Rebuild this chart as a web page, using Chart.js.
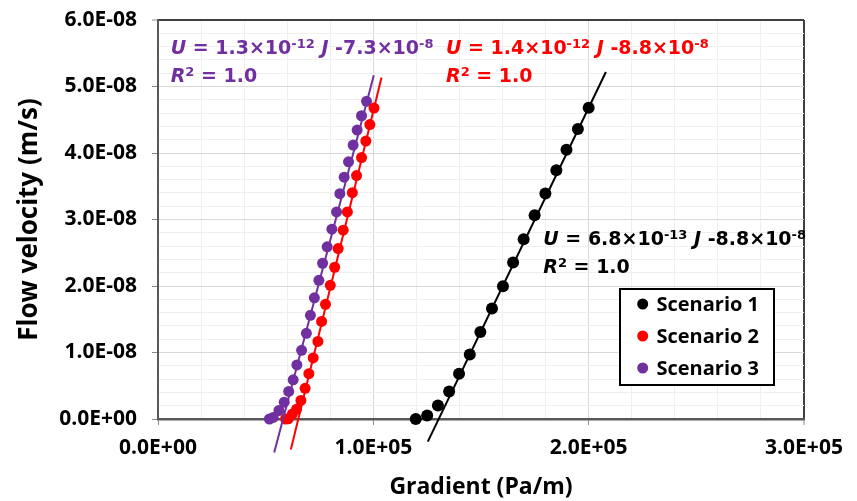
<!DOCTYPE html>
<html><head><meta charset="utf-8">
<style>html,body{margin:0;padding:0;background:#fff;overflow:hidden}</style>
<script src="https://cdn.jsdelivr.net/npm/chart.js@4.4.0/dist/chart.umd.min.js"></script>
</head><body>
<canvas id="c" width="857" height="501"></canvas>
<script>
// ---------------- data ----------------
const seriesNames = ['Scenario 1', 'Scenario 2', 'Scenario 3'];
const seriesColors = ['#000000', '#ff0000', '#7030a0'];

const s1Gradient = [119700,125000,130000,135200,139800,144800,149700,155100,160200,164900,169800,174900,179900,185000,189700,195000,200000];
const s1Velocity = [0,0.053e-8,0.203e-8,0.414e-8,0.68e-8,0.971e-8,1.307e-8,1.66e-8,1.995e-8,2.352e-8,2.703e-8,3.065e-8,3.39e-8,3.74e-8,4.05e-8,4.36e-8,4.68e-8];

const s2Gradient = [59260,60460,62410,64360,66360,68310,70070,72060,74250,75960,77770,80000,82040,83670,85990,87940,90260,92200,94520,96520,98380,100320];
const s2Velocity = [0,0.003e-8,0.075e-8,0.148e-8,0.279e-8,0.462e-8,0.681e-8,0.919e-8,1.167e-8,1.468e-8,1.724e-8,2.011e-8,2.282e-8,2.563e-8,2.839e-8,3.114e-8,3.404e-8,3.660e-8,3.931e-8,4.179e-8,4.428e-8,4.676e-8];

const s3Gradient = [51740,53500,56150,58610,60700,62780,64500,66680,68910,70770,72620,74710,76430,78560,80740,82920,84450,86450,88490,90630,92480,94520,96840];
const s3Velocity = [0,0.023e-8,0.128e-8,0.253e-8,0.414e-8,0.590e-8,0.813e-8,1.032e-8,1.288e-8,1.559e-8,1.822e-8,2.086e-8,2.342e-8,2.590e-8,2.854e-8,3.114e-8,3.389e-8,3.637e-8,3.867e-8,4.119e-8,4.345e-8,4.560e-8,4.777e-8];

// linear trendlines (slope, intercept, x extent)
const trendSlope = [6.72e-13, 1.329e-12, 1.226e-12];
const trendIntercept = [-8.76e-8, -8.66e-8, -7.12e-8];
const trendStart = [125300, 61700, 53970];
const trendEnd = [208000, 103800, 100230];

// axis ranges / ticks
const xMin = 0, xMax = 3e5, xMajor = 1e5, xMinor = 2e4;
const yMin = 0, yMax = 6e-8, yMajor = 1e-8, yMinor = 2e-9;
const xTitle = 'Gradient (Pa/m)';
const yTitle = 'Flow velocity (m/s)';

// equation labels
const eqLabels = [
  { color: '#7030a0', lines: [
    [{t:'U',it:1},{t:' = 1.3×10'},{t:'-12',sup:1},{t:' '},{t:'J',it:1},{t:' -7.3×10'},{t:'-8',sup:1}],
    [{t:'R',it:1},{t:'2',sup:1},{t:' = 1.0'}] ] },
  { color: '#ff0000', lines: [
    [{t:'U',it:1},{t:' = 1.4×10'},{t:'-12',sup:1},{t:' '},{t:'J',it:1},{t:' -8.8×10'},{t:'-8',sup:1}],
    [{t:'R',it:1},{t:'2',sup:1},{t:' = 1.0'}] ] },
  { color: '#000000', lines: [
    [{t:'U',it:1},{t:' = 6.8×10'},{t:'-13',sup:1},{t:' '},{t:'J',it:1},{t:' -8.8×10'},{t:'-8',sup:1}],
    [{t:'R',it:1},{t:'2',sup:1},{t:' = 1.0'}] ] }
];
const eqPos = [[170.7, 53.5, 81.5], [446, 53.5, 81.5], [543.3, 245, 272.5]];

// ---------------- helpers ----------------
function sci(v) {
  if (Math.abs(v) < 1e-30) return '0.0E+00';
  let e = Math.floor(Math.log10(Math.abs(v)) + 1e-9);
  let m = v / Math.pow(10, e);
  if (Math.round(m * 10) / 10 >= 10) { m /= 10; e++; }
  return m.toFixed(1) + 'E' + (e < 0 ? '-' : '+') + String(Math.abs(e)).padStart(2, '0');
}
function isMult(v, step) { const r = v / step; return Math.abs(r - Math.round(r)) < 1e-6; }

const tickFont = { family: '"Open Sans"', size: 21, weight: 'bold' };

const xs = [s1Gradient, s2Gradient, s3Gradient];
const ys = [s1Velocity, s2Velocity, s3Velocity];
const radii = [6, 5.5, 5.5];

const datasets = [];
for (let i = 0; i < 3; i++) {
  datasets.push({
    label: 'trend ' + seriesNames[i],
    isTrend: true,
    data: [
      { x: trendStart[i], y: trendSlope[i] * trendStart[i] + trendIntercept[i] },
      { x: trendEnd[i], y: trendSlope[i] * trendEnd[i] + trendIntercept[i] }
    ],
    showLine: true, borderColor: seriesColors[i], borderWidth: 2,
    pointRadius: 0, order: 1, clip: false
  });
}
for (let i = 0; i < 3; i++) {
  datasets.push({
    label: seriesNames[i],
    data: xs[i].map((x, k) => ({ x, y: ys[i][k] })),
    backgroundColor: seriesColors[i], borderColor: seriesColors[i],
    pointRadius: radii[i], pointBorderWidth: 0, showLine: false,
    order: 2, clip: false
  });
}

function drawRich(ctx, x, y, segs, color) {
  ctx.fillStyle = color;
  ctx.textBaseline = 'alphabetic';
  ctx.textAlign = 'left';
  for (const s of segs) {
    const size = s.sup ? 13 : 19;
    ctx.font = (s.it ? 'italic ' : '') + 'bold ' + size + 'px "DejaVu Sans"';
    ctx.fillText(s.t, x, s.sup ? y - 6 : y);
    x += ctx.measureText(s.t).width;
  }
}

const overlay = {
  id: 'overlay',
  afterDraw(chart) {
    const ctx = chart.ctx;
    ctx.save();
    // equations
    eqLabels.forEach((lab, i) => {
      const p = eqPos[i];
      drawRich(ctx, p[0], p[1], lab.lines[0], lab.color);
      drawRich(ctx, p[0], p[2], lab.lines[1], lab.color);
    });
    // legend
    const bx = 620, by = 289, bw = 154, bh = 96;
    ctx.fillStyle = '#fff';
    ctx.fillRect(bx, by, bw, bh);
    ctx.strokeStyle = '#000';
    ctx.lineWidth = 2;
    ctx.strokeRect(bx, by, bw, bh);
    ctx.font = 'bold 20px "Open Sans"';
    ctx.textBaseline = 'middle';
    ctx.textAlign = 'left';
    const items = chart.data.datasets.filter(d => !d.isTrend);
    items.forEach((d, k) => {
      const cy = 304 + k * 32;
      ctx.fillStyle = d.backgroundColor;
      ctx.beginPath(); ctx.arc(642.7, cy, 5.5, 0, Math.PI * 2); ctx.fill();
      ctx.fillStyle = '#000';
      ctx.fillText(d.label, 656.5, cy + 1);
    });
    ctx.restore();
  }
};

new Chart(document.getElementById('c'), {
  type: 'scatter',
  data: { datasets },
  options: {
    responsive: false, animation: false,
    layout: { padding: { top: 20, right: 53, left: 0, bottom: 0 } },
    plugins: { legend: { display: false }, tooltip: { enabled: false } },
    scales: {
      x: {
        type: 'linear', min: xMin, max: xMax,
        ticks: {
          stepSize: xMinor, autoSkip: false, maxRotation: 0, minRotation: 0,
          font: tickFont, color: '#000', padding: 10,
          callback: v => isMult(v, xMajor) ? sci(v) : ''
        },
        grid: {
          color: c => { const v = c.tick.value; if (Math.abs(v - xMax) < 1) return '#404040'; if (Math.abs(v) < 1) return 'rgba(0,0,0,0)'; return isMult(v, xMajor) ? '#d9d9d9' : '#efefef'; },
          lineWidth: c => Math.abs(c.tick.value - xMax) < 1 ? 2 : 1,
          tickColor: c => isMult(c.tick.value, xMajor) ? '#8c8c8c' : 'rgba(0,0,0,0)',
          tickLength: 6, tickWidth: 1
        },
        border: { color: '#595959', width: 2.5 },
        title: { display: true, text: xTitle, color: '#000',
          font: { family: '"Open Sans"', size: 23, weight: 'bold', lineHeight: 1 },
          padding: { top: 0, bottom: 2 } },
        afterFit: s => { s.height = 82; s.paddingLeft = 0; s.paddingRight = 0; }
      },
      y: {
        type: 'linear', min: yMin, max: yMax,
        ticks: {
          stepSize: yMinor, autoSkip: false,
          font: tickFont, color: '#000', padding: 15,
          callback: v => isMult(v, yMajor) ? sci(v) : ''
        },
        grid: {
          color: c => { const v = c.tick.value; if (Math.abs(v - yMax) < 1e-12) return '#404040'; if (Math.abs(v) < 1e-12) return 'rgba(0,0,0,0)'; return isMult(v, yMajor) ? '#d9d9d9' : '#efefef'; },
          lineWidth: c => Math.abs(c.tick.value - yMax) < 1e-12 ? 2 : 1,
          tickColor: c => isMult(c.tick.value, yMajor) ? '#8c8c8c' : 'rgba(0,0,0,0)',
          tickLength: 6, tickWidth: 1
        },
        border: { color: '#595959', width: 2 },
        title: { display: true, text: yTitle, color: '#000',
          font: { family: '"Open Sans"', size: 26, weight: 'bold', lineHeight: 1 },
          padding: { top: 16.5, bottom: 0 } },
        afterFit: s => { s.width = 158; s.paddingTop = 0; s.paddingBottom = 0; }
      }
    }
  },
  plugins: [overlay]
});
</script>
</body></html>
